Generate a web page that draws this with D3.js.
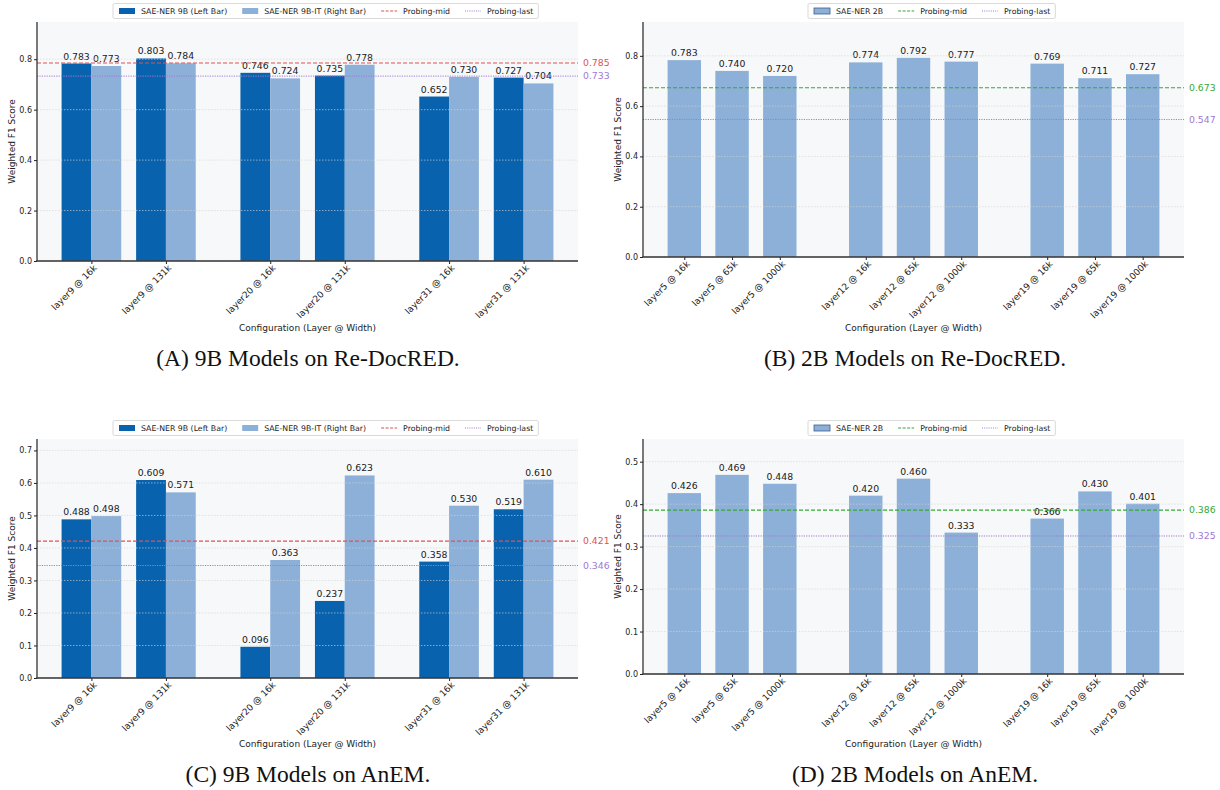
<!DOCTYPE html>
<html>
<head>
<meta charset="utf-8">
<script src="https://cdn.jsdelivr.net/npm/d3@7"></script>
<style>
  html, body { margin: 0; padding: 0; background: #ffffff; }
  svg { display: block; }
  text { font-family: "DejaVu Sans", sans-serif; }
  .caption { font-family: "Liberation Serif", "Times New Roman", serif; }
</style>
</head>
<body>
<svg id="fig" width="1220" height="790"></svg>
<script>
// Configurations (layer @ SAE width)
const configs9B = ["layer9 @ 16k", "layer9 @ 131k", "layer20 @ 16k", "layer20 @ 131k", "layer31 @ 16k", "layer31 @ 131k"];
const configs2B = ["layer5 @ 16k", "layer5 @ 65k", "layer5 @ 1000k", "layer12 @ 16k", "layer12 @ 65k", "layer12 @ 1000k", "layer19 @ 16k", "layer19 @ 65k", "layer19 @ 1000k"];

// Re-DocRED weighted F1
const redoc9B   = [0.783, 0.803, 0.746, 0.735, 0.652, 0.727];
const redoc9BIT = [0.773, 0.784, 0.724, 0.778, 0.730, 0.704];
const redoc2B   = [0.783, 0.740, 0.720, 0.774, 0.792, 0.777, 0.769, 0.711, 0.727];
const redoc9BProbe = [0.785, 0.733];   // [mid, last]
const redoc2BProbe = [0.673, 0.547];

// AnEM weighted F1
const anem9B   = [0.488, 0.609, 0.096, 0.237, 0.358, 0.519];
const anem9BIT = [0.498, 0.571, 0.363, 0.623, 0.530, 0.610];
const anem2B   = [0.426, 0.469, 0.448, 0.420, 0.460, 0.333, 0.366, 0.430, 0.401];
const anem9BProbe = [0.421, 0.346];
const anem2BProbe = [0.386, 0.325];

// Tick values
const ticksRedoc = [0.0, 0.2, 0.4, 0.6, 0.8];
const ticksAnem9B = [0.0, 0.1, 0.2, 0.3, 0.4, 0.5, 0.6, 0.7];
const ticksAnem2B = [0.0, 0.1, 0.2, 0.3, 0.4, 0.5];

// Series names
const names9B = ["SAE-NER 9B (Left Bar)", "SAE-NER 9B-IT (Right Bar)"];
const names2B = ["SAE-NER 2B"];
const probeNames = ["Probing-mid", "Probing-last"];

const captions = ["(A) 9B Models on Re-DocRED.", "(B) 2B Models on Re-DocRED.", "(C) 9B Models on AnEM.", "(D) 2B Models on AnEM."];

const DARK = "#0862ad", LIGHT = "#8cb0d8", BG = "#f7f8fa";
const RED = "#e05252", GREEN = "#35a835", PURPLE = "#a07ad2";

const svg = d3.select("#fig");

function drawPanel(o) {
  const g = svg.append("g");
  const n = o.series.length;
  const pos = o.cats.map((c, i) => i + Math.floor(i / o.groupSize) * o.gap);
  const lo = pos[0] - n * o.barW / 2, hi = pos[pos.length - 1] + n * o.barW / 2;
  const m = (hi - lo) * 0.05;
  const x = d3.scaleLinear().domain([lo - m, hi + m]).range([o.left, o.right]);
  const yMax = d3.max(o.series.flat()) * 1.18;
  const y = d3.scaleLinear().domain([0, yMax]).range([o.bottom, o.top]);

  // plot background
  g.append("rect").attr("x", o.left).attr("y", o.top)
    .attr("width", o.right - o.left).attr("height", o.bottom - o.top).attr("fill", BG);

  // bars
  o.series.forEach((vals, k) => {
    const off = (k - (n - 1) / 2) * o.barW;
    g.append("g").selectAll("rect").data(vals).join("rect")
      .attr("x", (d, i) => x(pos[i] + off - o.barW / 2))
      .attr("width", (d, i) => x(pos[i] + off + o.barW / 2) - x(pos[i] + off - o.barW / 2))
      .attr("y", d => y(d))
      .attr("height", d => y(0) - y(d))
      .attr("fill", o.colors[k]);
    g.append("g").selectAll("text").data(vals).join("text")
      .attr("x", (d, i) => x(pos[i] + off))
      .attr("y", d => y(d) - 4)
      .attr("text-anchor", "middle")
      .attr("font-size", 9.3).attr("fill", "#1a1a1a")
      .text(d => d.toFixed(3));
  });

  // horizontal grid
  g.append("g").selectAll("line").data(o.yTicks).join("line")
    .attr("x1", o.left).attr("x2", o.right)
    .attr("y1", d => y(d)).attr("y2", d => y(d))
    .attr("stroke", "#d4d4d4").attr("stroke-opacity", 0.8)
    .attr("stroke-width", 0.8).attr("stroke-dasharray", "1.5,1.5");

  // probing reference lines
  const probeStyles = [
    { color: o.midColor, dash: "4,2", w: 1.1 },
    { color: PURPLE, dash: "1.2,1.2", w: 1.0 }
  ];
  o.probe.forEach((v, k) => {
    g.append("line").attr("x1", o.left).attr("x2", o.right)
      .attr("y1", y(v)).attr("y2", y(v))
      .attr("stroke", probeStyles[k].color).attr("stroke-width", probeStyles[k].w)
      .attr("stroke-dasharray", probeStyles[k].dash);
    g.append("text").attr("x", o.right + 5).attr("y", y(v))
      .attr("dy", "0.35em").attr("font-size", 9.3)
      .attr("fill", probeStyles[k].color).text(v.toFixed(3));
  });

  // axes
  const yAxis = d3.axisLeft(y).tickValues(o.yTicks).tickFormat(d3.format(".1f")).tickSize(3).tickPadding(2);
  const ya = g.append("g").attr("transform", `translate(${o.left},0)`).call(yAxis);
  ya.select(".domain").remove();
  ya.selectAll("text").attr("font-size", 8).attr("fill", "#222").style("font-family", "DejaVu Sans");
  ya.selectAll("line").attr("stroke", "#222");

  const xAxis = d3.axisBottom(x).tickValues(pos).tickFormat((d, i) => o.cats[i]).tickSize(3);
  const xa = g.append("g").attr("transform", `translate(0,${o.bottom})`).call(xAxis);
  xa.select(".domain").remove();
  xa.selectAll("line").attr("stroke", "#222");
  xa.selectAll("text")
    .attr("font-size", 9).attr("fill", "#222").style("font-family", "DejaVu Sans")
    .attr("text-anchor", "end")
    .attr("transform", "translate(1,3) rotate(-45)")
    .attr("x", 0).attr("y", 0).attr("dy", "0.71em");

  // spines
  g.append("line").attr("x1", o.left).attr("x2", o.left).attr("y1", o.top).attr("y2", o.bottom)
    .attr("stroke", "#222").attr("stroke-width", 1.2);
  g.append("line").attr("x1", o.left - 0.6).attr("x2", o.right).attr("y1", o.bottom).attr("y2", o.bottom)
    .attr("stroke", "#333").attr("stroke-width", 1.6);

  // axis titles
  g.append("text").attr("x", (o.left + o.right) / 2).attr("y", o.xTitleY)
    .attr("text-anchor", "middle").attr("font-size", 9).attr("fill", "#222")
    .text("Configuration (Layer @ Width)");
  g.append("text")
    .attr("transform", `translate(${o.left - 22},${(o.top + o.bottom) / 2}) rotate(-90)`)
    .attr("text-anchor", "middle").attr("font-size", 9).attr("fill", "#222")
    .text("Weighted F1 Score");

  // legend
  const lg = g.append("g");
  const items = o.names.map((nm, k) => ({ type: "patch", color: o.colors[k], label: nm }))
    .concat([{ type: "mid", color: o.midColor, label: probeNames[0] },
             { type: "last", color: PURPLE, label: probeNames[1] }]);
  let cx = o.legendX + 6;
  const ly = o.legendY;
  const box = lg.append("rect");
  items.forEach(it => {
    if (it.type === "patch") {
      lg.append("rect").attr("x", cx).attr("y", ly - 3).attr("width", 16).attr("height", 6)
        .attr("fill", it.color)
        .attr("stroke", o.patchStroke ? "#3d5f8a" : "none").attr("stroke-width", 0.8);
    } else {
      lg.append("line").attr("x1", cx).attr("x2", cx + 16).attr("y1", ly).attr("y2", ly)
        .attr("stroke", it.color).attr("stroke-width", 1.1)
        .attr("stroke-dasharray", it.type === "mid" ? "3,1.5" : "1,1.2");
    }
    const t = lg.append("text").attr("x", cx + 22).attr("y", ly).attr("dy", "0.35em")
      .attr("font-size", 7.8).attr("fill", "#222").text(it.label);
    cx += 22 + t.node().getComputedTextLength() + 15;
  });
  box.attr("x", o.legendX).attr("y", ly - 7.5).attr("width", cx - 15 + 5 - o.legendX).attr("height", 15)
    .attr("fill", "#fff").attr("stroke", "#cfcfcf").attr("stroke-width", 0.8).attr("rx", 1.5);

  // caption
  svg.append("text").attr("class", "caption")
    .attr("x", o.captionX).attr("y", o.captionY)
    .attr("text-anchor", "middle").attr("font-size", 23.5).attr("fill", "#111")
    .text(o.caption);
}

const common9B = { cats: configs9B, colors: [DARK, LIGHT], barW: 0.4, groupSize: 2, gap: 0.4,
                   names: names9B, midColor: RED, left: 37, right: 578, legendX: 113, captionX: 308 };
const common2B = { cats: configs2B, colors: [LIGHT], barW: 0.7, groupSize: 3, gap: 0.8,
                   names: names2B, midColor: GREEN, left: 643, right: 1184, legendX: 808, captionX: 915,
                   patchStroke: true };

drawPanel(Object.assign({}, common9B, {
  series: [redoc9B, redoc9BIT], probe: redoc9BProbe, yTicks: ticksRedoc,
  top: 22, bottom: 261, xTitleY: 331, legendY: 11, caption: captions[0], captionY: 366 }));
drawPanel(Object.assign({}, common2B, {
  series: [redoc2B], probe: redoc2BProbe, yTicks: ticksRedoc,
  top: 22, bottom: 257, xTitleY: 331, legendY: 11, caption: captions[1], captionY: 366 }));
drawPanel(Object.assign({}, common9B, {
  series: [anem9B, anem9BIT], probe: anem9BProbe, yTicks: ticksAnem9B,
  top: 439, bottom: 678, xTitleY: 747, legendY: 428, caption: captions[2], captionY: 782 }));
drawPanel(Object.assign({}, common2B, {
  series: [anem2B], probe: anem2BProbe, yTicks: ticksAnem2B,
  top: 439, bottom: 674, xTitleY: 747, legendY: 428, caption: captions[3], captionY: 782 }));
</script>
</body>
</html>
